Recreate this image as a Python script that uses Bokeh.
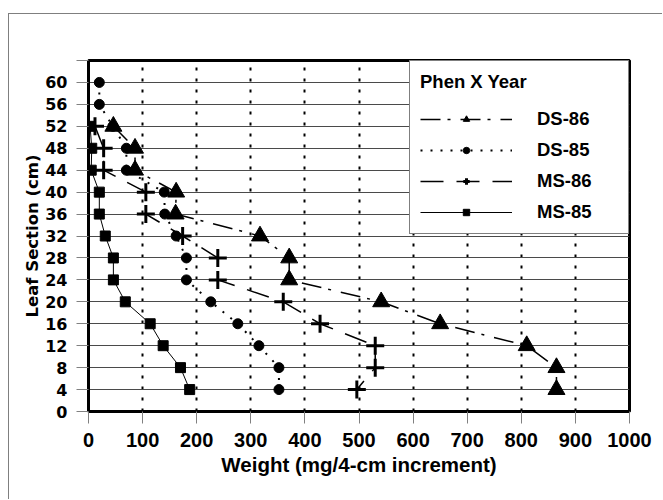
from bokeh.plotting import figure
from bokeh.models import FixedTicker, Legend, LegendItem
from bokeh.embed import file_html
from bokeh.resources import INLINE

# ---- data ----
ds86_y = [52, 48, 44, 40, 36, 32, 28, 24, 20, 16, 12, 8, 4]
ds86_x = [46, 86, 86, 162, 161, 317, 371, 371, 541, 650, 810, 865, 865]

ds85_y = [60, 56, 52, 48, 44, 40, 36, 32, 28, 24, 20, 16, 12, 8, 4]
ds85_x = [20, 20, 45, 70, 70, 140, 141, 162, 181, 181, 226, 276, 315, 352, 352]

ms86_y = [52, 48, 44, 40, 36, 32, 28, 24, 20, 16, 12, 8, 4]
ms86_x = [12, 28, 28, 106, 106, 174, 239, 239, 360, 428, 530, 530, 496]

ms85_y = [52, 48, 44, 40, 36, 32, 28, 24, 20, 16, 12, 8, 4]
ms85_x = [3, 6, 5, 20, 20, 31, 46, 46, 68, 114, 138, 170, 187]

x_ticks = list(range(0, 1001, 100))
y_ticks = list(range(0, 65, 4))
x_grid = list(range(100, 1000, 100))
y_grid = list(range(4, 61, 4))

p = figure(width=654, height=486, x_range=(0, 1000), y_range=(0, 64),
           output_backend="svg", toolbar_location=None,
           min_border_left=79, min_border_right=34,
           min_border_top=46, min_border_bottom=89)
p.margin = (13, 0, 0, 8)
p.styles = {"border-left": "1px solid #7f7f7f", "border-top": "1px solid #7f7f7f"}
p.background_fill_color = "white"
p.border_fill_color = "white"
p.outline_line_color = "black"
p.outline_line_width = 3

# axes
p.xaxis.ticker = FixedTicker(ticks=x_ticks)
p.yaxis.ticker = FixedTicker(ticks=y_ticks)
p.yaxis.major_label_overrides = {64: ""}
for ax in (p.xaxis[0], p.yaxis[0]):
    ax.axis_line_width = 3
    ax.axis_line_color = "black"
    ax.major_tick_out = 12
    ax.major_tick_in = 0
    ax.major_tick_line_color = "#808080"
    ax.major_tick_line_width = 1
    ax.minor_tick_line_color = None
    ax.major_label_text_font_style = "bold"
    ax.axis_label_text_font_style = "bold"
    ax.major_label_text_color = "black"
    ax.axis_label_text_color = "black"
    ax.major_label_standoff = 9

p.xaxis.major_label_text_font = "Liberation Sans"
p.xaxis.major_label_text_font_size = "20px"
p.xaxis.axis_label = "Weight (mg/4-cm increment)"
p.xaxis.axis_label_text_font = "Liberation Sans"
p.xaxis.axis_label_text_font_size = "20.5px"
p.xaxis.axis_label_standoff = 3

p.yaxis.major_label_text_font = "DejaVu Sans"
p.yaxis.major_label_text_font_size = "16px"
p.yaxis.axis_label = "Leaf Section (cm)"
p.yaxis.axis_label_text_font = "DejaVu Sans"
p.yaxis.axis_label_text_font_size = "16.5px"
p.yaxis.axis_label_standoff = 0

# grids
p.xgrid.ticker = FixedTicker(ticks=x_grid)
p.xgrid.grid_line_color = "black"
p.xgrid.grid_line_width = 2
p.xgrid.grid_line_dash = "3 8"
p.ygrid.ticker = FixedTicker(ticks=y_grid)
p.ygrid.grid_line_color = "#4a4a4a"
p.ygrid.grid_line_width = 1

# series
l_ds86 = p.line(ds86_x, ds86_y, line_color="black", line_width=1.5, line_dash="20 7 3 10")
m_ds86 = p.scatter(ds86_x, ds86_y, marker="triangle", size=17, fill_color="black", line_color="black")

l_ds85 = p.line(ds85_x, ds85_y, line_color="black", line_width=2, line_dash="2 8")
m_ds85 = p.scatter(ds85_x, ds85_y, marker="circle", size=10, fill_color="black", line_color="black")

l_ms86 = p.line(ms86_x, ms86_y, line_color="black", line_width=1.5, line_dash="23 13")
m_ms86 = p.scatter(ms86_x, ms86_y, marker="cross", size=18, line_color="black", line_width=3)

l_ms85 = p.line(ms85_x, ms85_y, line_color="black", line_width=1)
m_ms85 = p.scatter(ms85_x, ms85_y, marker="square", size=10, fill_color="black", line_color="black")

legend = Legend(items=[
    LegendItem(label="DS-86", renderers=[l_ds86, m_ds86]),
    LegendItem(label="DS-85", renderers=[l_ds85, m_ds85]),
    LegendItem(label="MS-86", renderers=[l_ms86, m_ms86]),
    LegendItem(label="MS-85", renderers=[l_ms85, m_ms85]),
], location="top_right", title="Phen X Year")
legend.margin = 0
legend.padding = 10
legend.spacing = 9
legend.glyph_width = 92
legend.glyph_height = 16
legend.label_standoff = 25
legend.label_width = 81
legend.title_standoff = 15
legend.border_line_color = "black"
legend.border_line_width = 1.5
legend.background_fill_color = "white"
legend.background_fill_alpha = 1
legend.label_text_font = "Liberation Sans"
legend.label_text_font_style = "bold"
legend.label_text_font_size = "18.5px"
legend.label_text_color = "black"
legend.title_text_font = "Liberation Sans"
legend.title_text_font_style = "bold"
legend.title_text_font_size = "18.5px"
legend.title_text_color = "black"
p.add_layout(legend)

open("out.html", "w").write(file_html(p, INLINE))
